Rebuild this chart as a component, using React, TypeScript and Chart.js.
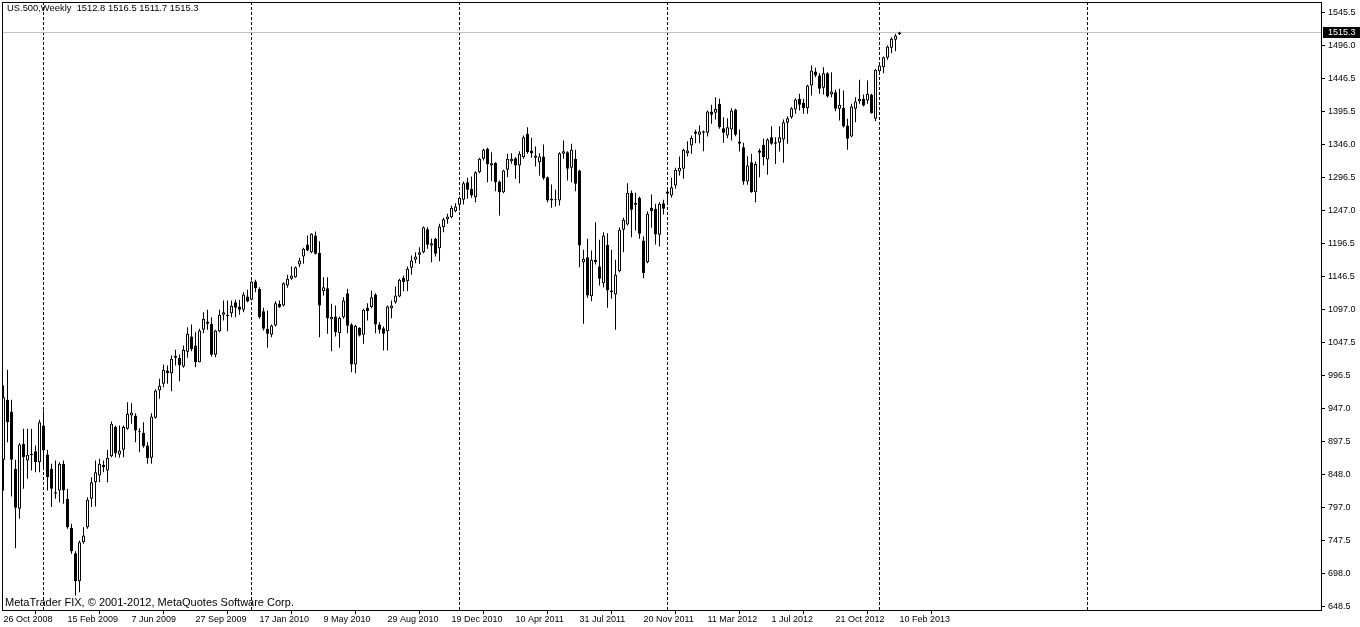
import React, { useEffect, useRef } from 'react';
import { Chart, registerables } from 'chart.js';

Chart.register(...registerables);

// ---- data (weekly candles, index 0 = week of 26 Oct 2008) ----
const opens = [
  870.1, 960.7, 943.0, 856.5, 796.1, 894.2, 869.0, 878.6, 883.0, 866.4,
  921.9, 878.1, 856.5, 821.1, 823.7, 864.0, 811.1, 767.4, 729.0, 686.7,
  745.6, 768.3, 811.1, 836.2, 846.4, 862.5, 853.9, 875.5, 919.4, 878.1,
  885.2, 916.9, 937.0, 937.0, 912.8, 910.8, 891.7, 873.1, 933.5, 974.7,
  984.9, 1004.9, 1000.8, 1024.1, 1024.1, 1010.9, 1033.1, 1056.2, 1042.6, 1017.4,
  1066.4, 1078.9, 1075.4, 1028.6, 1064.2, 1089.0, 1087.2, 1091.4, 1108.0, 1101.5,
  1096.6, 1116.6, 1111.6, 1139.3, 1128.2, 1094.4, 1067.8, 1058.8, 1072.8, 1105.6,
  1103.0, 1133.2, 1143.3, 1145.8, 1164.9, 1177.0, 1195.1, 1183.5, 1208.7, 1182.6,
  1124.6, 1129.2, 1082.3, 1086.4, 1061.2, 1085.4, 1121.6, 1074.3, 1014.0, 1069.3,
  1058.8, 1099.5, 1100.5, 1119.6, 1074.3, 1068.7, 1064.2, 1099.0, 1108.0, 1116.6,
  1144.9, 1139.7, 1159.9, 1172.0, 1179.6, 1183.5, 1218.2, 1193.6, 1203.7, 1189.6,
  1221.3, 1233.4, 1236.4, 1245.4, 1255.1, 1262.6, 1289.2, 1279.3, 1266.6, 1304.3,
  1324.5, 1339.6, 1314.4, 1318.5, 1290.3, 1274.1, 1308.0, 1320.9, 1325.5, 1314.4,
  1327.0, 1362.3, 1337.1, 1326.1, 1319.4, 1328.0, 1296.8, 1264.1, 1261.8, 1261.6,
  1332.1, 1334.5, 1311.0, 1324.5, 1306.9, 1168.4, 1176.0, 1117.1, 1172.0, 1161.9,
  1136.7, 1194.7, 1125.7, 1119.6, 1154.9, 1217.3, 1225.4, 1273.2, 1255.1, 1265.7,
  1201.2, 1168.4, 1250.6, 1249.0, 1209.8, 1257.5, 1275.2, 1269.1, 1284.2, 1305.4,
  1309.5, 1333.0, 1344.6, 1365.8, 1360.8, 1366.2, 1363.8, 1396.0, 1394.0, 1407.6,
  1370.8, 1359.7, 1368.8, 1399.0, 1350.7, 1342.1, 1290.3, 1319.4, 1274.1, 1337.1,
  1345.7, 1323.5, 1357.2, 1349.6, 1348.7, 1353.7, 1378.9, 1387.4, 1399.0, 1415.2,
  1409.1, 1401.0, 1435.2, 1456.4, 1450.3, 1431.8, 1453.8, 1421.7, 1425.1, 1400.1,
  1401.6, 1374.8, 1358.2, 1400.1, 1411.5, 1415.2, 1412.6, 1421.7, 1385.0, 1456.8,
  1462.9, 1477.1, 1492.2, 1504.3, 1512.8,
];
const highs = [
  982.3, 1006.0, 960.7, 870.1, 895.1, 916.9, 916.9, 916.9, 891.7, 930.5,
  944.5, 885.2, 864.0, 869.0, 866.4, 869.0, 826.3, 773.4, 732.1, 748.2,
  768.3, 813.6, 843.8, 869.0, 871.6, 869.0, 885.2, 927.9, 921.9, 921.9,
  921.9, 957.1, 955.6, 940.4, 917.8, 926.8, 896.6, 940.4, 976.7, 992.3,
  1014.0, 1012.4, 1027.6, 1036.2, 1029.1, 1042.6, 1070.3, 1074.3, 1062.7, 1067.8,
  1093.0, 1096.6, 1085.4, 1066.4, 1096.6, 1110.6, 1110.6, 1110.6, 1111.6, 1111.6,
  1123.1, 1126.7, 1140.8, 1141.9, 1130.7, 1099.5, 1095.5, 1074.3, 1109.5, 1110.6,
  1138.2, 1149.4, 1161.9, 1161.9, 1175.1, 1190.2, 1208.7, 1212.2, 1214.8, 1200.1,
  1145.8, 1145.8, 1105.6, 1103.0, 1086.4, 1115.6, 1128.2, 1076.3, 1073.9, 1070.3,
  1098.0, 1106.5, 1125.7, 1121.6, 1077.8, 1071.3, 1103.0, 1110.6, 1131.7, 1143.3,
  1148.3, 1161.9, 1178.5, 1183.5, 1191.1, 1222.3, 1221.3, 1203.7, 1205.2, 1226.4,
  1235.5, 1241.5, 1254.0, 1257.5, 1267.6, 1290.3, 1295.9, 1297.8, 1305.8, 1326.1,
  1339.6, 1341.2, 1334.5, 1319.4, 1291.8, 1308.0, 1332.1, 1333.0, 1327.0, 1336.0,
  1359.7, 1372.3, 1356.3, 1343.1, 1333.0, 1346.1, 1297.8, 1285.7, 1277.7, 1334.5,
  1352.2, 1336.0, 1347.2, 1338.1, 1308.0, 1187.1, 1203.7, 1186.1, 1228.8, 1202.2,
  1213.7, 1212.2, 1187.1, 1172.0, 1220.8, 1235.5, 1287.7, 1276.7, 1273.2, 1267.6,
  1207.2, 1245.4, 1270.6, 1256.6, 1259.0, 1262.6, 1280.8, 1295.9, 1311.0, 1328.0,
  1339.6, 1351.1, 1359.7, 1368.3, 1374.8, 1367.3, 1397.5, 1406.1, 1417.6, 1415.2,
  1387.4, 1385.9, 1401.0, 1400.1, 1368.8, 1348.7, 1328.5, 1332.1, 1320.5, 1339.6,
  1354.8, 1355.7, 1373.8, 1357.2, 1373.8, 1383.9, 1388.9, 1402.5, 1416.1, 1422.7,
  1415.2, 1436.3, 1465.4, 1462.0, 1453.8, 1462.9, 1455.3, 1455.3, 1428.7, 1430.3,
  1427.7, 1385.0, 1407.6, 1417.6, 1443.9, 1421.7, 1442.8, 1422.7, 1460.5, 1470.4,
  1479.0, 1495.6, 1508.2, 1513.3, 1516.5,
];
const lows = [
  823.7, 896.6, 814.6, 736.6, 781.0, 826.3, 841.4, 853.9, 851.3, 851.3,
  856.5, 823.7, 798.6, 811.1, 806.0, 803.6, 765.8, 728.1, 665.1, 670.2,
  743.2, 765.8, 798.6, 799.6, 836.2, 851.3, 836.2, 874.0, 874.0, 873.1,
  874.0, 915.4, 924.4, 896.6, 881.5, 888.2, 864.0, 864.0, 932.0, 962.1,
  979.7, 984.9, 973.6, 1012.4, 988.7, 1009.0, 1024.1, 1034.0, 1009.9, 1017.4,
  1061.2, 1066.4, 1026.0, 1025.0, 1062.7, 1080.4, 1064.2, 1085.4, 1085.4, 1089.0,
  1093.0, 1108.0, 1110.6, 1123.1, 1082.9, 1065.3, 1039.1, 1055.2, 1071.3, 1099.5,
  1101.5, 1129.7, 1141.9, 1144.9, 1160.9, 1166.0, 1185.0, 1182.0, 1180.0, 1055.2,
  1118.1, 1060.3, 1034.0, 1056.2, 1039.1, 1082.9, 1061.2, 1002.3, 1000.8, 1056.2,
  1045.2, 1080.4, 1099.0, 1061.2, 1060.3, 1035.1, 1035.1, 1083.9, 1105.6, 1115.6,
  1124.6, 1124.6, 1149.4, 1166.9, 1166.0, 1182.0, 1188.6, 1168.4, 1177.0, 1169.9,
  1213.7, 1226.4, 1234.9, 1243.9, 1246.5, 1255.5, 1264.1, 1265.7, 1259.0, 1302.8,
  1322.0, 1289.2, 1290.7, 1275.6, 1238.9, 1272.6, 1296.8, 1317.0, 1294.3, 1287.7,
  1324.5, 1332.1, 1326.1, 1312.9, 1299.3, 1292.8, 1259.0, 1250.6, 1252.5, 1254.0,
  1324.5, 1291.8, 1289.2, 1275.6, 1160.9, 1075.4, 1114.6, 1109.5, 1164.9, 1133.2,
  1130.2, 1099.5, 1113.1, 1066.4, 1153.3, 1183.5, 1223.8, 1206.2, 1216.3, 1203.7,
  1144.3, 1166.9, 1220.3, 1195.1, 1192.1, 1240.4, 1257.5, 1265.7, 1279.3, 1299.3,
  1294.3, 1328.0, 1332.1, 1348.1, 1348.1, 1336.0, 1358.2, 1377.4, 1383.9, 1369.9,
  1348.7, 1355.7, 1352.2, 1358.7, 1335.6, 1285.3, 1285.3, 1273.2, 1259.0, 1296.8,
  1314.4, 1300.4, 1345.7, 1316.9, 1335.6, 1318.5, 1347.2, 1384.9, 1392.5, 1397.5,
  1392.5, 1392.5, 1420.1, 1447.8, 1422.7, 1421.7, 1416.7, 1417.6, 1396.5, 1382.4,
  1371.8, 1338.1, 1357.2, 1379.8, 1407.6, 1403.5, 1407.6, 1392.5, 1381.3, 1451.8,
  1453.8, 1474.0, 1484.0, 1487.0, 1511.7,
];
const closes = [
  964.6, 926.8, 870.1, 797.6, 893.2, 874.0, 877.6, 877.1, 866.4, 926.8,
  884.1, 843.8, 826.3, 818.7, 864.0, 823.7, 768.3, 732.1, 686.7, 745.6,
  755.7, 809.6, 836.2, 851.3, 864.0, 858.9, 873.1, 924.4, 880.1, 884.1,
  919.4, 939.5, 941.5, 914.3, 912.4, 890.6, 872.5, 935.4, 974.7, 981.8,
  1006.0, 1000.8, 1022.6, 1027.1, 1012.9, 1036.2, 1060.3, 1037.1, 1017.4, 1065.3,
  1083.0, 1075.4, 1028.6, 1065.3, 1089.0, 1093.0, 1088.7, 1102.6, 1099.5, 1096.6,
  1119.6, 1109.1, 1139.3, 1129.2, 1085.4, 1067.8, 1060.3, 1072.8, 1106.5, 1100.5,
  1136.7, 1143.3, 1148.3, 1160.9, 1171.0, 1188.6, 1186.1, 1211.3, 1181.1, 1103.0,
  1130.7, 1083.9, 1086.0, 1062.7, 1084.4, 1110.6, 1072.4, 1014.0, 1072.4, 1057.7,
  1096.6, 1094.4, 1115.6, 1074.3, 1066.4, 1060.3, 1101.5, 1103.0, 1118.1, 1141.9,
  1138.2, 1158.4, 1171.0, 1177.0, 1183.5, 1221.3, 1194.7, 1197.1, 1181.1, 1222.3,
  1233.4, 1237.4, 1250.6, 1252.5, 1265.7, 1287.7, 1277.7, 1269.1, 1304.3, 1324.5,
  1338.1, 1316.9, 1317.9, 1289.2, 1274.1, 1306.9, 1324.5, 1324.5, 1314.4, 1332.1,
  1357.2, 1334.5, 1333.0, 1329.5, 1328.0, 1295.3, 1261.6, 1261.6, 1262.6, 1333.0,
  1336.0, 1309.5, 1338.1, 1286.8, 1193.6, 1173.5, 1118.1, 1172.0, 1168.4, 1143.3,
  1208.7, 1125.7, 1123.1, 1149.4, 1217.3, 1232.4, 1273.2, 1247.5, 1258.1, 1211.3,
  1151.8, 1241.5, 1245.4, 1210.2, 1256.6, 1249.0, 1271.7, 1281.7, 1308.0, 1311.0,
  1338.1, 1337.1, 1356.3, 1362.3, 1365.8, 1363.8, 1396.0, 1391.0, 1400.1, 1372.3,
  1363.8, 1372.3, 1397.5, 1360.8, 1347.2, 1290.3, 1314.4, 1274.1, 1316.9, 1333.6,
  1327.0, 1353.7, 1347.2, 1347.2, 1357.2, 1379.8, 1385.9, 1401.0, 1414.1, 1406.1,
  1401.0, 1435.2, 1457.9, 1450.3, 1430.3, 1453.8, 1418.6, 1426.2, 1400.1, 1406.1,
  1373.3, 1354.8, 1403.5, 1411.1, 1415.2, 1405.0, 1422.7, 1393.4, 1458.9, 1465.4,
  1478.0, 1494.1, 1505.8, 1510.7, 1515.3,
];

// x-axis date labels every 16 weeks
const dateTickWeeks = [0, 16, 32, 48, 64, 80, 96, 112, 128, 144, 160, 176, 192, 208, 224];
const dateLabels = [
  '26 Oct 2008', '15 Feb 2009', '7 Jun 2009', '27 Sep 2009', '17 Jan 2010',
  '9 May 2010', '29 Aug 2010', '19 Dec 2010', '10 Apr 2011', '31 Jul 2011',
  '20 Nov 2011', '11 Mar 2012', '1 Jul 2012', '21 Oct 2012', '10 Feb 2013',
];
// price-axis labels, bottom to top
const priceTickLabels = [
  '648.5', '698.0', '747.5', '797.0', '848.0', '897.5', '947.0', '996.5', '1047.5', '1097.0',
  '1146.5', '1196.5', '1247.0', '1296.5', '1346.0', '1395.5', '1446.5', '1496.0', '1545.5',
];
// period separators (first week of each year)
const separatorWeeks = [10, 62, 114, 166, 219, 271];
const lastPrice = 1515.3;
const lastPriceLabel = '1515.3';
const titleText = 'US.500,Weekly  1512.8 1516.5 1511.7 1515.3';
const copyrightText = 'MetaTrader FIX, \u00A9 2001-2012, MetaQuotes Software Corp.';

// scale ranges
const X_MIN = -0.375;
const X_MAX = 329.625;
const PRICE_LO = parseFloat(priceTickLabels[0]);
const PRICE_HI = parseFloat(priceTickLabels[priceTickLabels.length - 1]);
const PRICE_STEP = (PRICE_HI - PRICE_LO) / (priceTickLabels.length - 1);
const PX_PER_PRICE = 33 / PRICE_STEP;
const Y_MAX = PRICE_HI + 10.5 / PX_PER_PRICE;
const Y_MIN = PRICE_HI - 598.5 / PX_PER_PRICE;

const FONT = 'Liberation Sans';

const decorPlugin = {
  id: 'mtDecor',
  afterDraw(chart: any) {
    const { ctx, chartArea: a, scales } = chart;
    ctx.save();
    ctx.strokeStyle = '#000';
    ctx.lineWidth = 1;
    ctx.strokeRect(a.left + 0.5, a.top + 0.5, a.right - a.left - 1, a.bottom - a.top - 1);
    ctx.fillStyle = '#000';
    ctx.textAlign = 'left';
    ctx.textBaseline = 'alphabetic';
    ctx.font = `9.4px "${FONT}"`;
    ctx.fillText(titleText, 7, 11);
    ctx.font = `11px "${FONT}"`;
    ctx.fillText(copyrightText, 5, 606);
    const y = scales.y.getPixelForValue(lastPrice);
    ctx.fillRect(a.right + 1, y - 5.5, 37, 11);
    ctx.fillStyle = '#fff';
    ctx.font = `9px "${FONT}"`;
    ctx.textBaseline = 'middle';
    ctx.fillText(lastPriceLabel, a.right + 6, y + 0.5);
    ctx.restore();
  },
};

export default function App() {
  const ref = useRef<HTMLCanvasElement | null>(null);

  useEffect(() => {
    if (!ref.current) return;
    const wickData = highs.map((h, i) => ({ x: i, y: [lows[i], h] }));
    const bodyData = opens.map((o, i) => ({ x: i, y: [o, closes[i]] }));
    const bodyColors = opens.map((o, i) => (closes[i] >= o ? '#ffffff' : '#000000'));
    const sepData: any[] = [];
    separatorWeeks.forEach((w) => {
      sepData.push({ x: w, y: Y_MAX }, { x: w, y: Y_MIN }, { x: w, y: null });
    });
    const priceLine = [
      { x: X_MIN, y: lastPrice },
      { x: X_MAX, y: lastPrice },
    ];
    const priceTickValues = priceTickLabels.map((_, k) => PRICE_LO + k * PRICE_STEP);

    const chart = new Chart(ref.current, {
      type: 'bar',
      data: {
        datasets: [
          {
            type: 'line',
            data: sepData,
            borderColor: '#000',
            borderWidth: 1,
            borderDash: [3, 2],
            pointRadius: 0,
            spanGaps: false,
            order: 4,
          } as any,
          {
            type: 'line',
            data: priceLine,
            borderColor: '#c0c0c0',
            borderWidth: 1,
            pointRadius: 0,
            order: 3,
          } as any,
          {
            type: 'bar',
            data: wickData,
            backgroundColor: '#000',
            borderWidth: 0,
            barThickness: 1,
            grouped: false,
            inflateAmount: 0,
            minBarLength: 1,
            order: 2,
          } as any,
          {
            type: 'bar',
            data: bodyData,
            backgroundColor: bodyColors,
            borderColor: '#000',
            borderWidth: 1,
            borderSkipped: false,
            barThickness: 3,
            grouped: false,
            inflateAmount: 0,
            minBarLength: 1,
            order: 1,
          } as any,
        ],
      },
      options: {
        animation: false,
        responsive: false,
        devicePixelRatio: 1,
        events: [],
        layout: { padding: { left: 2, top: 2, right: 0, bottom: 0 } },
        plugins: { legend: { display: false }, tooltip: { enabled: false } },
        scales: {
          x: {
            type: 'linear',
            min: X_MIN,
            max: X_MAX,
            offset: false,
            afterBuildTicks: (scale: any) => {
              scale.ticks = dateTickWeeks.map((v) => ({ value: v }));
            },
            afterFit: (scale: any) => {
              scale.height = 16;
              scale.paddingLeft = 0;
              scale.paddingRight = 0;
              scale.paddingTop = 0;
              scale.paddingBottom = 0;
            },
            ticks: {
              autoSkip: false,
              maxRotation: 0,
              minRotation: 0,
              align: 'start',
              padding: 0,
              color: '#000',
              font: { family: FONT, size: 9 },
              callback: (_v: any, i: number) => dateLabels[i],
            },
            grid: { display: true, drawOnChartArea: false, drawTicks: true, tickLength: 3, color: '#000' },
            border: { display: false },
          },
          y: {
            type: 'linear',
            position: 'right',
            min: Y_MIN,
            max: Y_MAX,
            afterBuildTicks: (scale: any) => {
              scale.ticks = priceTickValues.map((v) => ({ value: v }));
            },
            afterFit: (scale: any) => {
              scale.width = 38;
              scale.paddingLeft = 0;
              scale.paddingRight = 0;
              scale.paddingTop = 0;
              scale.paddingBottom = 0;
            },
            ticks: {
              autoSkip: false,
              padding: 3,
              color: '#000',
              font: { family: FONT, size: 9 },
              callback: (_v: any, i: number) => priceTickLabels[i],
            },
            grid: { display: true, drawOnChartArea: false, drawTicks: true, tickLength: 3, color: '#000' },
            border: { display: false },
          },
        },
      } as any,
      plugins: [decorPlugin],
    });
    return () => chart.destroy();
  }, []);

  return (
    <div style={{ position: 'fixed', left: 0, top: 0, width: 1360, height: 627, background: '#fff' }}>
      <canvas ref={ref} width={1360} height={627} style={{ display: 'block' }} />
    </div>
  );
}
